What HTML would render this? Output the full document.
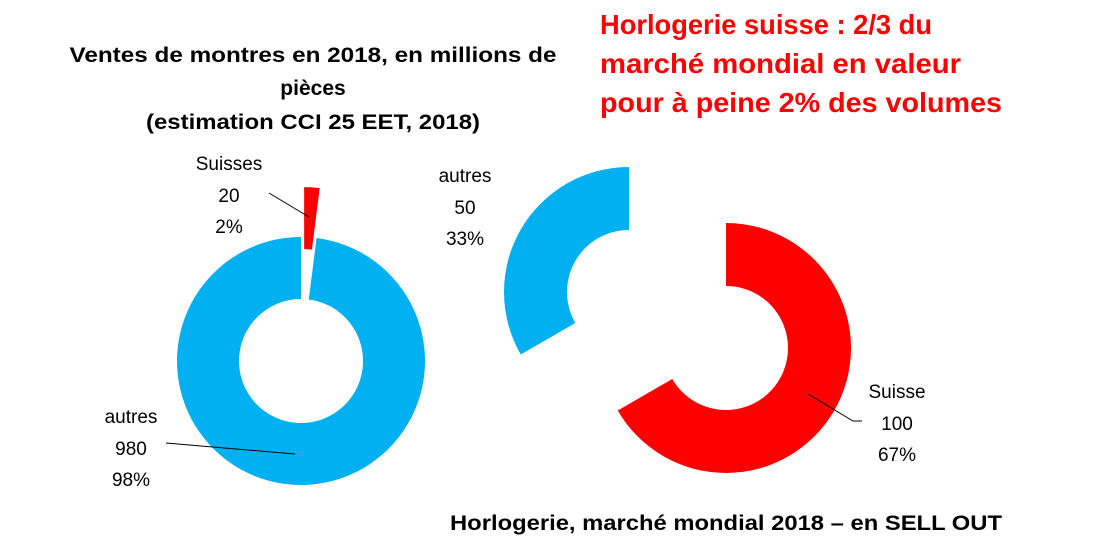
<!DOCTYPE html>
<html><head><meta charset="utf-8"><style>
body{margin:0;background:#fff;width:1102px;height:537px;overflow:hidden;font-family:"Liberation Sans",sans-serif}
svg{display:block}
</style></head><body>
<svg id="c" width="1102" height="537">
<text x="313" y="62" font-size="21" font-weight="bold" text-anchor="middle" textLength="487" lengthAdjust="spacingAndGlyphs">Ventes de montres en 2018, en millions de</text>
<text x="313" y="95" font-size="21" font-weight="bold" text-anchor="middle">pièces</text>
<text x="313" y="129" font-size="21" font-weight="bold" text-anchor="middle" textLength="334" lengthAdjust="spacingAndGlyphs">(estimation CCI 25 EET, 2018)</text>
<text x="600" y="34" font-size="28" font-weight="bold" fill="#ff0000" textLength="332" lengthAdjust="spacingAndGlyphs">Horlogerie suisse : 2/3 du</text>
<text x="600" y="73" font-size="28" font-weight="bold" fill="#ff0000" textLength="361" lengthAdjust="spacingAndGlyphs">marché mondial en valeur</text>
<text x="600" y="112" font-size="28" font-weight="bold" fill="#ff0000" textLength="402" lengthAdjust="spacingAndGlyphs">pour à peine 2% des volumes</text>
<text x="726" y="530" font-size="21" font-weight="bold" text-anchor="middle" textLength="552" lengthAdjust="spacingAndGlyphs">Horlogerie, marché mondial 2018 – en SELL OUT</text>
<g id="g1"></g><g id="g2"></g>
<line x1="269" y1="193" x2="309" y2="217" stroke="#000" stroke-width="1"/>
<line x1="166" y1="443" x2="295" y2="454" stroke="#000" stroke-width="1"/>
<polyline points="808,394 853,421 862,421" fill="none" stroke="#000" stroke-width="1"/>
<g font-size="19" text-anchor="middle">
<text x="229" y="170">Suisses</text>
<text x="229" y="202">20</text>
<text x="229" y="233">2%</text>
<text x="131" y="423">autres</text>
<text x="131" y="455">980</text>
<text x="131" y="486">98%</text>
<text x="465" y="182">autres</text>
<text x="465" y="214">50</text>
<text x="465" y="245">33%</text>
<text x="897" y="398">Suisse</text>
<text x="897" y="430">100</text>
<text x="897" y="461">67%</text>
</g>
</svg>
<script>
const volumeCategories = ["Suisses", "autres"];
const volumeValues = [20, 980];
const valueCategories = ["Suisse", "autres"];
const valueValues = [100, 50];
const colors = {"Suisses":"#ff0000","Suisse":"#ff0000","autres":"#00b0f0"};
function arcPath(cx,cy,r0,r1,a0,a1){
  const p=(r,a)=>[cx+r*Math.sin(a),cy-r*Math.cos(a)];
  const large=(a1-a0)>Math.PI?1:0;
  const [x0,y0]=p(r1,a0),[x1,y1]=p(r1,a1),[x2,y2]=p(r0,a1),[x3,y3]=p(r0,a0);
  return `M${x0},${y0}A${r1},${r1} 0 ${large} 1 ${x1},${y1}L${x2},${y2}A${r0},${r0} 0 ${large} 0 ${x3},${y3}Z`;
}
function donut(gid,cats,vals,cx,cy,r0,r1,explode,prefix){
  const g=document.getElementById(gid);
  const tot=vals.reduce((a,b)=>a+b,0);
  let a=0;
  cats.forEach((c,i)=>{
    const a0=a, a1=a+vals[i]/tot*2*Math.PI; a=a1;
    const mid=(a0+a1)/2, off=explode[i];
    const path=document.createElementNS("http://www.w3.org/2000/svg","path");
    path.setAttribute("d",arcPath(cx+off*Math.sin(mid),cy-off*Math.cos(mid),r0,r1,a0,a1));
    path.setAttribute("fill",colors[c]);
    
    
    g.appendChild(path);
  });
}
donut("g1",volumeCategories,volumeValues,301,361,62,124,[50,0],"volume");
donut("g2",valueCategories,valueValues,726,348,62,125,[0,112],"value");
</script>
</body></html>
